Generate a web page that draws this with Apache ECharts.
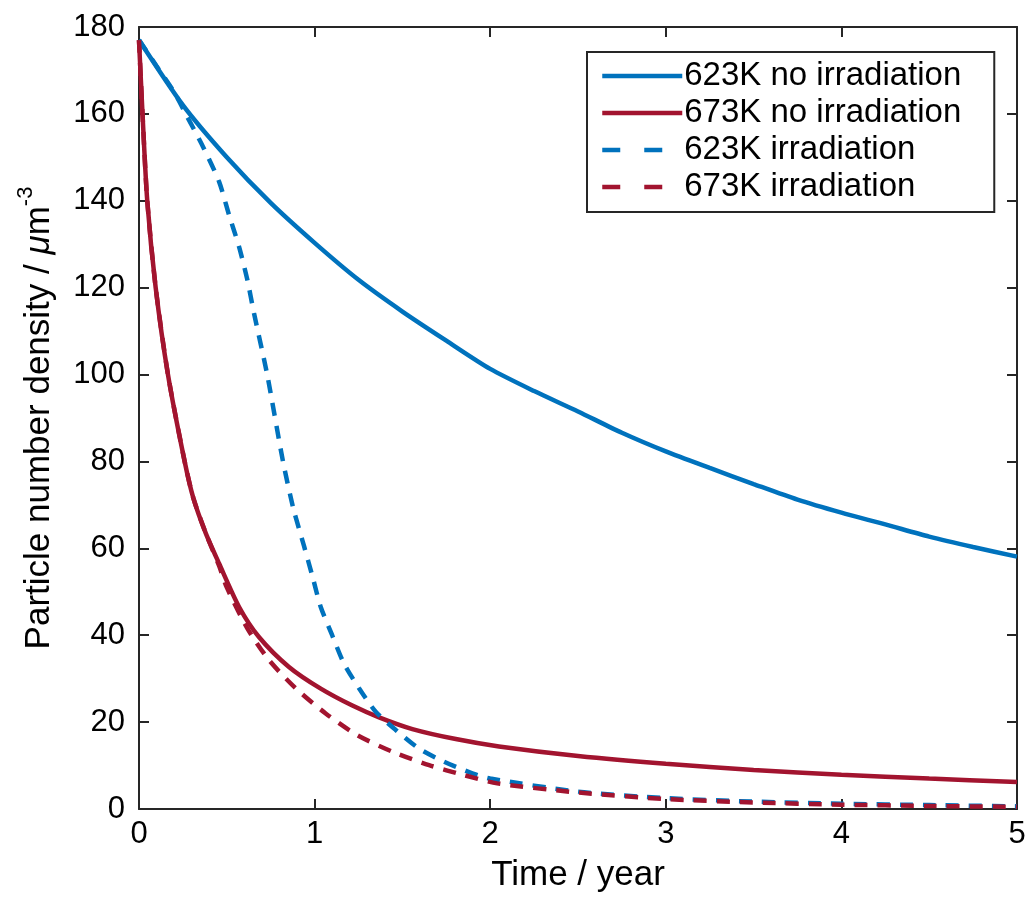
<!DOCTYPE html>
<html>
<head>
<meta charset="utf-8">
<script src="https://cdn.jsdelivr.net/npm/echarts@6/dist/echarts.min.js"></script>
<style>
  html, body { margin: 0; padding: 0; background: #fff; }
  #main { width: 1029px; height: 899px; }
</style>
</head>
<body>
<div id="main"></div>
<script>
// [time (year), number density (um^-3)]
var noIrr623 = [
  [0, 177], [0.25, 162], [0.5, 150], [0.75, 139.5], [1, 130.3], [1.25, 121.8],
  [1.5, 114.5], [1.75, 107.8], [2, 101.3], [2.25, 96.2], [2.5, 91.5], [2.75, 86.6],
  [3, 82.3], [3.25, 78.5], [3.5, 74.8], [3.75, 71.2], [4, 68.2], [4.25, 65.5],
  [4.5, 62.7], [4.75, 60.3], [5, 58.1]
];
var noIrr673 = [
  [0, 177], [0.02, 160], [0.047, 140], [0.095, 120], [0.165, 100], [0.26, 80],
  [0.31, 71.5], [0.38, 63.5], [0.456, 56.5], [0.57, 46.5], [0.683, 39.6], [0.854, 32.7],
  [1.035, 27.7], [1.215, 23.8], [1.367, 21.1], [1.557, 18.4], [1.804, 16.1], [2.05, 14.4],
  [2.5, 12.2], [3, 10.4], [3.5, 9], [4, 7.9], [4.5, 7], [5, 6.2]
];
var irr623 = [
  [0, 177], [0.1, 171], [0.2, 165], [0.266, 160], [0.37, 152], [0.456, 144.4],
  [0.513, 136.7], [0.57, 129.4], [0.617, 121.8], [0.655, 114.1], [0.73, 100], [0.82, 80],
  [0.88, 69], [0.94, 60.5], [0.99, 53.2], [1.035, 46.5], [1.1, 40], [1.167, 33.5],
  [1.253, 27.8], [1.348, 22.4], [1.462, 18.2], [1.595, 13.9], [1.737, 10.9], [1.898, 8.2],
  [2, 7], [2.5, 4], [3, 2.5], [3.5, 1.7], [4, 1.2], [4.5, 0.9], [5, 0.6]
];
var irr673 = [
  [0, 177], [0.02, 160], [0.047, 140], [0.095, 120], [0.165, 100], [0.26, 80],
  [0.31, 71.5], [0.38, 63.5], [0.456, 56], [0.5, 51], [0.617, 41.6], [0.74, 34.3],
  [0.892, 27.8], [1.063, 22], [1.243, 17], [1.443, 13.2], [1.652, 10.1], [1.85, 7.8],
  [2.04, 5.9], [2.5, 3.8], [3, 2.3], [3.5, 1.5], [4, 1], [4.5, 0.7], [5, 0.5]
];
var seriesNames = ['623K no irradiation', '673K no irradiation', '623K irradiation', '673K irradiation'];
var xTicks = [0, 5, 1];
var yTicks = [0, 180, 20];

var blue = '#0072BD';
var red = '#A2142F';
var ink = '#262626';
var font = '"Liberation Sans", Arial, Helvetica, sans-serif';

var myChart = echarts.init(document.getElementById('main'));

function axisBase(show) {
  return {
    type: 'value',
    axisLine: { show: true, onZero: false, lineStyle: { color: ink, width: 2 } },
    axisTick: { show: true, inside: true, length: 10, lineStyle: { color: ink, width: 2 } },
    axisLabel: { show: show, color: '#000', fontSize: 31, fontFamily: font },
    splitLine: { show: false }
  };
}

function makeLine(name, data, color, dashed) {
  return {
    name: name,
    type: 'line',
    data: data,
    symbol: 'none',
    smooth: 0.25,
    lineStyle: { color: color, width: 4.5, type: dashed ? [13, 10] : 'solid' },
    itemStyle: { color: color }
  };
}

var xBottom = axisBase(true);
xBottom.min = xTicks[0]; xBottom.max = xTicks[1]; xBottom.interval = xTicks[2];
xBottom.position = 'bottom';
xBottom.axisLabel.margin = 10;
xBottom.name = 'Time / year';
xBottom.nameLocation = 'middle';
xBottom.nameGap = 49;
xBottom.nameTextStyle = { color: '#000', fontSize: 35, fontFamily: font };

var xTop = axisBase(false);
xTop.min = xTicks[0]; xTop.max = xTicks[1]; xTop.interval = xTicks[2];
xTop.position = 'top';

var yLeft = axisBase(true);
yLeft.min = yTicks[0]; yLeft.max = yTicks[1]; yLeft.interval = yTicks[2];
yLeft.position = 'left';
yLeft.axisLabel.margin = 14;
yLeft.name = '{a|Particle number density / }{i|μ}{a|m}{s|-3}';
yLeft.nameLocation = 'middle';
yLeft.nameGap = 82;
yLeft.nameTextStyle = {
  color: '#000',
  fontFamily: font,
  rich: {
    a: { fontSize: 35, fontFamily: font, color: '#000', lineHeight: 42, verticalAlign: 'bottom' },
    i: { fontSize: 35, fontFamily: font, fontStyle: 'italic', color: '#000', lineHeight: 42, verticalAlign: 'bottom' },
    s: { fontSize: 22, fontFamily: font, color: '#000', lineHeight: 22, verticalAlign: 'top' }
  }
};

var yRight = axisBase(false);
yRight.min = yTicks[0]; yRight.max = yTicks[1]; yRight.interval = yTicks[2];
yRight.position = 'right';

// legend shows the dashed ones as two long dashes
var legendData = seriesNames.map(function (n, i) {
  return i < 2 ? { name: n } : { name: n, lineStyle: { type: [18, 24] } };
});

var option = {
  backgroundColor: '#fff',
  animation: false,
  grid: { left: 139, top: 27, right: 12, bottom: 90, containLabel: false },
  legend: {
    orient: 'vertical',
    left: 587,
    top: 52,
    padding: [7, 33, 8, 13],
    itemWidth: 80,
    itemHeight: 14,
    itemGap: 3,
    borderColor: ink,
    borderWidth: 2,
    backgroundColor: '#fff',
    data: legendData,
    itemStyle: { opacity: 0 },
    lineStyle: { width: 4.5 },
    textStyle: { color: '#000', fontSize: 33, fontFamily: font, lineHeight: 34, padding: [0, 0, 0, -3] }
  },
  xAxis: [xBottom, xTop],
  yAxis: [yLeft, yRight],
  series: [
    makeLine(seriesNames[0], noIrr623, blue, false),
    makeLine(seriesNames[1], noIrr673, red, false),
    makeLine(seriesNames[2], irr623, blue, true),
    makeLine(seriesNames[3], irr673, red, true)
  ]
};
myChart.setOption(option);
</script>
</body>
</html>
